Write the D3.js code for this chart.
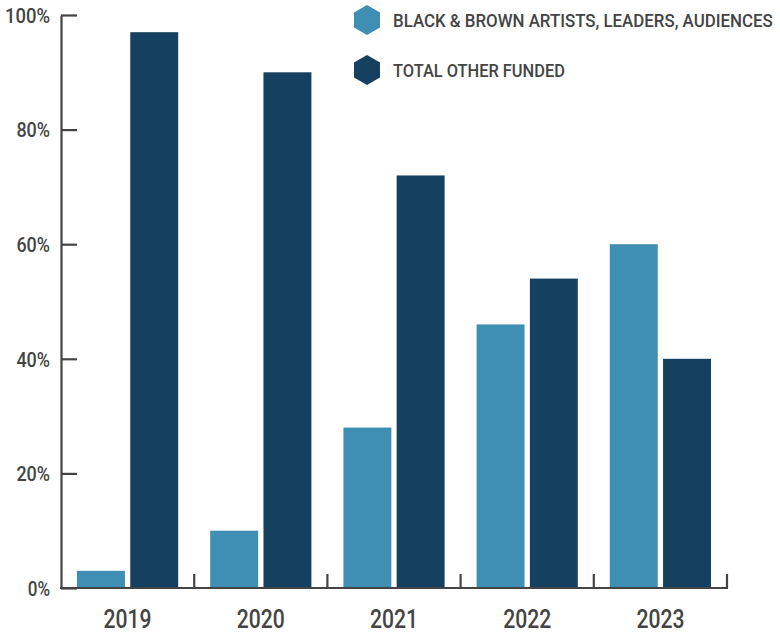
<!DOCTYPE html>
<html><head><meta charset="utf-8">
<script src="https://cdn.jsdelivr.net/npm/d3@7"></script>
<style>
body{margin:0;background:#fff;}
text{font-family:"Roboto","DejaVu Sans Condensed",sans-serif;fill:#444;}
</style></head>
<body><svg id="c" width="780" height="635"></svg>
<script>
const years = ["2019","2020","2021","2022","2023"];
const blackBrown = [3,10,28,46,60];
const otherFunded = [97,90,72,54,40];
const seriesNames = ["BLACK & BROWN ARTISTS, LEADERS, AUDIENCES","TOTAL OTHER FUNDED"];
const colors = ["#3F8EB3","#16405F"];
const yTicks = [0,20,40,60,80,100];

const svg = d3.select("#c");
const x = d3.scaleBand().domain(years).range([61,727]);
const y = d3.scaleLinear().domain([0,100]).range([588,15]);
const inner = d3.scaleBand().domain([0,1]).range([16, x.bandwidth()-16]).paddingInner(0.1);

const series = [blackBrown, otherFunded];
series.forEach((vals,si)=>{
  svg.append("g").selectAll("rect").data(vals).join("rect")
    .attr("x",(d,i)=>x(years[i])+inner(si))
    .attr("width",inner.bandwidth())
    .attr("y",d=>y(d))
    .attr("height",d=>y(0)-y(d))
    .attr("fill",colors[si]);
});

// y axis
const ya = svg.append("g").attr("transform","translate(61,0)")
  .call(d3.axisLeft(y).tickValues(yTicks).tickFormat(d=>d+"%").tickSizeInner(-16).tickSizeOuter(0).tickPadding(10));
ya.select(".domain").attr("stroke","#444").attr("stroke-width",2.2);
ya.selectAll(".tick line").attr("stroke","#444").attr("stroke-width",2.2);
ya.selectAll(".tick text").attr("font-size",20).attr("font-weight",500).attr("x",-11).attr("fill","#444")
  .attr("textLength",d=>String(d).length*11.3+11).attr("lengthAdjust","spacingAndGlyphs")
  .attr("dy","0.36em");

// x axis
const xa = svg.append("g").attr("transform","translate(0,588)");
xa.append("line").attr("x1",60).attr("x2",728).attr("y1",0).attr("y2",0).attr("stroke","#444").attr("stroke-width",2.2);
const bounds = years.slice(1).map(d=>x(d)).concat([x.range()[1]]);
xa.selectAll("line.t").data(bounds).join("line").attr("class","t")
  .attr("x1",d=>d).attr("x2",d=>d).attr("y1",0).attr("y2",-14)
  .attr("stroke","#444").attr("stroke-width",2.2);
xa.selectAll("text").data(years).join("text")
  .attr("x",d=>x(d)+x.bandwidth()/2).attr("y",40)
  .attr("text-anchor","middle").attr("font-size",25).attr("font-weight",500)
  .attr("textLength",48).attr("lengthAdjust","spacingAndGlyphs").text(d=>d);

// legend
const hex = (cx,cy,r)=>d3.range(6).map(k=>{const a=Math.PI/3*k - Math.PI/2;return [cx+r*Math.cos(a),cy+r*Math.sin(a)];});
const legendWidths = [380,172];
const lg = svg.append("g");
seriesNames.forEach((n,i)=>{
  const cy = 20 + i*50;
  lg.append("polygon").attr("points",hex(367,cy,15).map(p=>p.join(",")).join(" ")).attr("fill",colors[i]);
  const t = lg.append("text").attr("x",0).attr("y",0).attr("font-size",19).attr("font-weight",500).text(n);
  const w = t.node().getComputedTextLength();
  const sx = legendWidths[i]/w;
  t.attr("transform",`translate(393,${cy+7}) scale(${sx},1)`);
});
</script></body></html>
